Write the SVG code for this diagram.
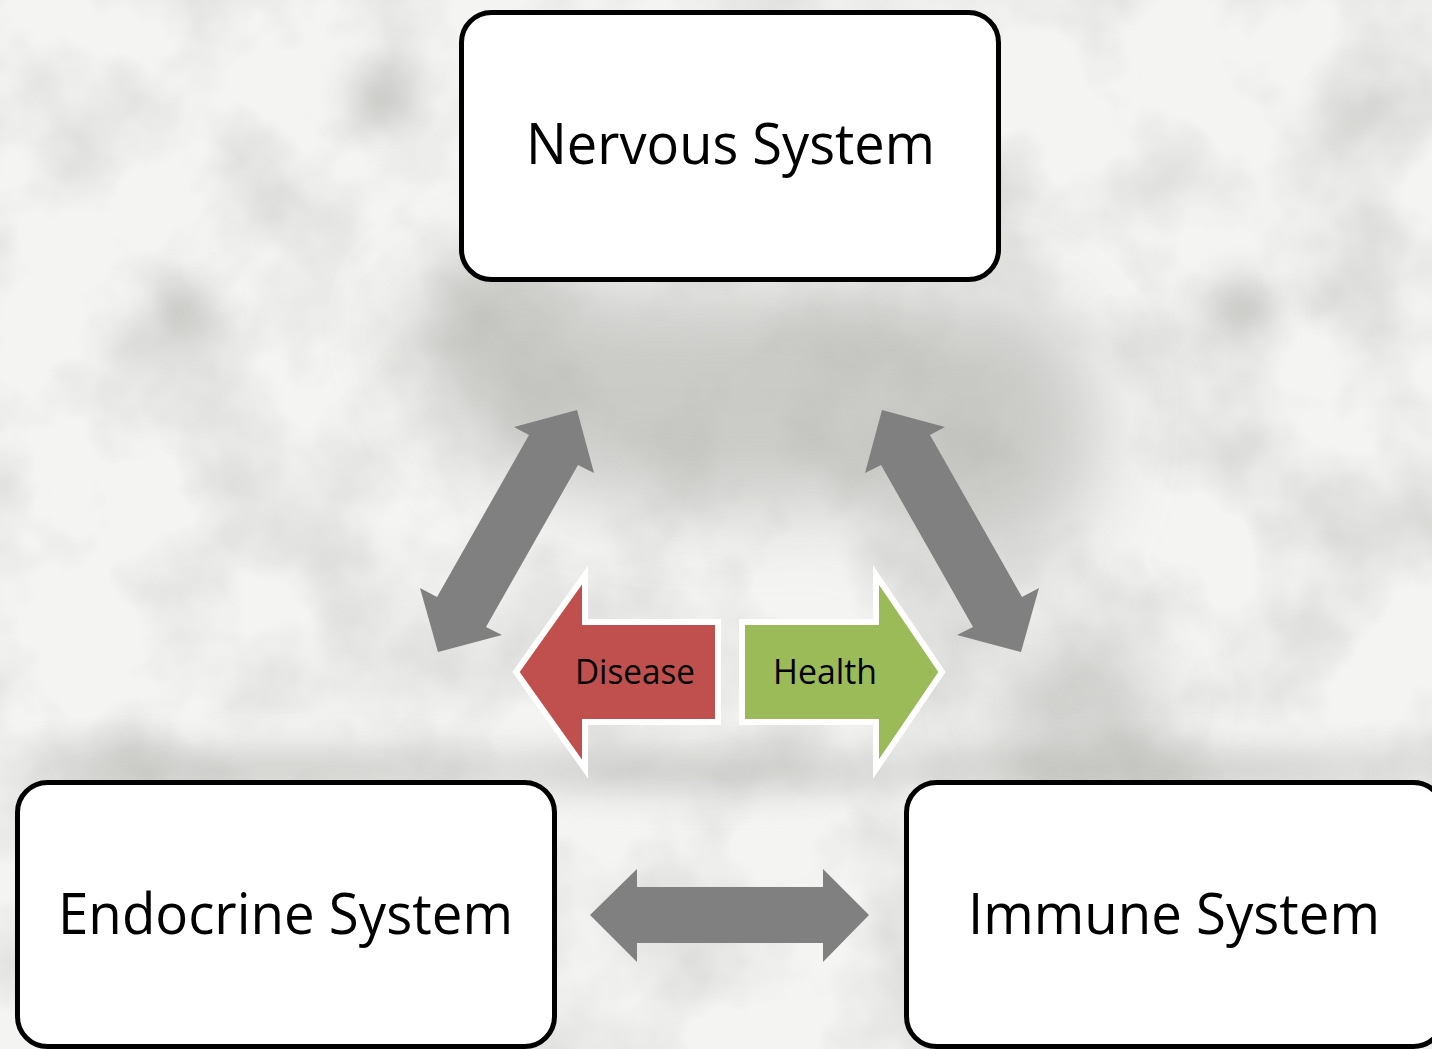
<svg xmlns="http://www.w3.org/2000/svg" width="1432" height="1049" viewBox="0 0 1432 1049">
<style>
.box{fill:#ffffff;stroke:#000000;stroke-width:5}
.big{font-family:"Open Sans","Liberation Sans",sans-serif;font-size:56px;fill:#000000;text-anchor:middle}
.small{font-family:"Open Sans","Liberation Sans",sans-serif;font-size:35px;fill:#000000;text-anchor:middle}
.conn{fill:#808080}
.dis{fill:#c0504d;stroke:#ffffff;stroke-width:6;stroke-linejoin:miter}
.hea{fill:#9bbb59;stroke:#ffffff;stroke-width:6;stroke-linejoin:miter}
</style>
<defs>
<filter id="tex" x="0" y="0" width="100%" height="100%">
<feTurbulence type="fractalNoise" baseFrequency="0.007" numOctaves="4" seed="7" result="n"/>
<feColorMatrix in="n" type="matrix" values="0 0 0 0 0.55  0 0 0 0 0.55  0 0 0 0 0.53  -1.3 0 0 0 0.78"/>
</filter>
<filter id="blur" x="-50%" y="-50%" width="200%" height="200%">
<feGaussianBlur stdDeviation="40"/>
</filter>
<filter id="blur2" x="-50%" y="-50%" width="200%" height="200%">
<feGaussianBlur stdDeviation="18"/>
</filter>
</defs>
<g id="background">
<rect x="0" y="0" width="1432" height="1049" fill="#f4f4f3"/>
<rect x="0" y="0" width="1432" height="1049" filter="url(#tex)"/>
<g filter="url(#blur)" fill="#a9a9a4" opacity="0.55">
<ellipse cx="740" cy="400" rx="300" ry="110"/>
<ellipse cx="980" cy="430" rx="120" ry="140"/>
<ellipse cx="520" cy="330" rx="120" ry="60"/>
<ellipse cx="1080" cy="700" rx="80" ry="60"/>
</g>
<g filter="url(#blur2)" fill="#a0a09b" opacity="0.5">
<ellipse cx="1240" cy="310" rx="30" ry="35"/>
<ellipse cx="380" cy="95" rx="30" ry="30"/>
<ellipse cx="185" cy="310" rx="25" ry="25"/>
<ellipse cx="700" cy="770" rx="220" ry="20"/>
<ellipse cx="1150" cy="770" rx="280" ry="18"/>
<ellipse cx="290" cy="770" rx="280" ry="18"/>
</g>
</g>
<g id="connectors">
<polygon class="conn" points="577,410 594,473 578,465 486,627 502,635 438,652 420,588 437,597 529,435 514,427"/>
<polygon class="conn" points="882,410 865,473 881,465 973,627 957,635 1021,652 1039,588 1022,597 930,435 945,427"/>
<polygon class="conn" points="590,915 637,869 637,887 823,887 823,869 869,915 823,962 823,943 637,943 637,962"/>
</g>
<g id="disease">
<polygon class="dis" points="516,672 585,575 585,622 718,622 718,722 585,722 585,769"/>
<text class="small" x="635" y="684" textLength="120" lengthAdjust="spacingAndGlyphs">Disease</text>
</g>
<g id="health">
<polygon class="hea" points="942,672 876,575 876,622 742,622 742,722 876,722 876,769"/>
<text class="small" x="825" y="684" textLength="104" lengthAdjust="spacingAndGlyphs">Health</text>
</g>
<g id="nervous">
<rect class="box" x="461.5" y="12.5" width="537" height="267" rx="30" ry="30"/>
<text class="big" x="730.5" y="164" textLength="409" lengthAdjust="spacingAndGlyphs">Nervous System</text>
</g>
<g id="endocrine">
<rect class="box" x="17.5" y="782.5" width="537" height="264" rx="30" ry="30"/>
<text class="big" x="285.5" y="934" textLength="455" lengthAdjust="spacingAndGlyphs">Endocrine System</text>
</g>
<g id="immune">
<rect class="box" x="906.5" y="782.5" width="537" height="264" rx="30" ry="30"/>
<text class="big" x="1174" y="934" textLength="412" lengthAdjust="spacingAndGlyphs">Immune System</text>
</g>
</svg>
